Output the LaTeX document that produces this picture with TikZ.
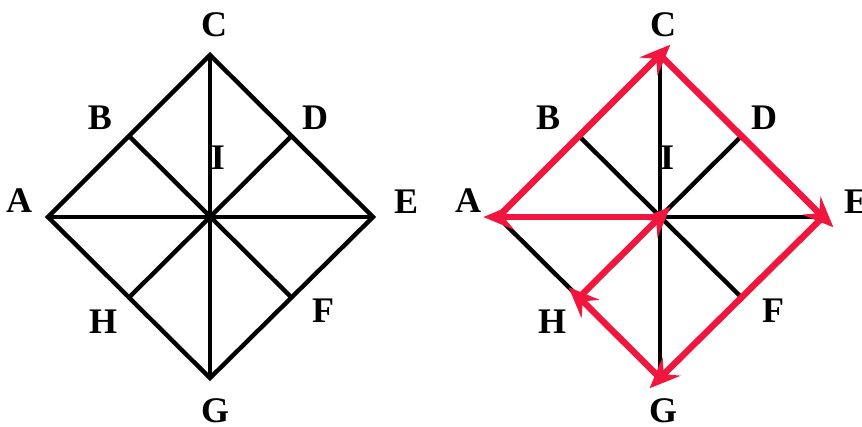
\documentclass[tikz,border=0pt]{standalone}
\usepackage{fontspec}
\setmainfont{Liberation Serif}
\usetikzlibrary{arrows.meta}
\definecolor{arrowred}{RGB}{240,22,62}
\tikzset{
  lbl/.style={font=\fontsize{27}{27}\selectfont\bfseries, inner sep=0pt},
  blk/.style={draw=black, line width=3.3pt},
  redarrow/.style={draw=arrowred, line width=4.8pt,
     -{Stealth[length=23pt,width=19pt,inset=8pt]}, shorten >=-11pt},
}
\begin{document}
\begin{tikzpicture}[x=0.75pt,y=-0.75pt]
\useasboundingbox (0,0) rectangle (862,426);
% ---------- left diagram ----------
\coordinate (A1) at (48,217);
\coordinate (C1) at (210,55);
\coordinate (E1) at (373,217);
\coordinate (G1) at (210,378);
\coordinate (I1) at (210,217);
\path (A1) -- (C1) coordinate[pos=0.5] (B1);
\path (C1) -- (E1) coordinate[pos=0.5] (D1);
\path (E1) -- (G1) coordinate[pos=0.5] (F1);
\path (G1) -- (A1) coordinate[pos=0.5] (H1);
\draw[blk] (A1) -- (C1) -- (E1) -- (G1) -- cycle;
\draw[blk] (A1) -- (E1);
\draw[blk] (C1) -- (G1);
\draw[blk] (B1) -- (F1);
\draw[blk] (D1) -- (H1);
\node[lbl] (lC1) at (214,25) {C};
\node[lbl] (lB1) at (100,118) {B};
\node[lbl] (lD1) at (315,118) {D};
\node[lbl] (lA1) at (19,201) {A};
\node[lbl] (lE1) at (406,202) {E};
\node[lbl] (lI1) at (218,158) {I};
\node[lbl] (lH1) at (103,322) {H};
\node[lbl] (lF1) at (323,311) {F};
\node[lbl] (lG1) at (215,411) {G};
% ---------- right diagram ----------
\coordinate (A2) at (498,217);
\coordinate (C2) at (660,55);
\coordinate (E2) at (823,217);
\coordinate (G2) at (660,378);
\coordinate (I2) at (660,217);
\path (A2) -- (C2) coordinate[pos=0.5] (B2);
\path (C2) -- (E2) coordinate[pos=0.5] (D2);
\path (E2) -- (G2) coordinate[pos=0.5] (F2);
\path (G2) -- (A2) coordinate[pos=0.5] (H2);
\draw[blk] (C2) -- (G2);
\draw[blk] (I2) -- (E2);
\draw[blk] (B2) -- (F2);
\draw[blk] (D2) -- (I2);
\draw[blk] (A2) -- (H2);
\draw[redarrow] (A2) -- (C2);
\draw[redarrow] (C2) -- (E2);
\draw[redarrow] (E2) -- (G2);
\draw[redarrow] (G2) -- (H2);
\draw[redarrow] (H2) -- (I2);
\draw[redarrow] (I2) -- (A2);
\node[lbl] (lC2) at (663,25) {C};
\node[lbl] (lB2) at (548,118) {B};
\node[lbl] (lD2) at (764,118) {D};
\node[lbl] (lA2) at (468,201) {A};
\node[lbl] (lE2) at (856,202) {E};
\node[lbl] (lI2) at (667,158) {I};
\node[lbl] (lH2) at (552,322) {H};
\node[lbl] (lF2) at (773,311) {F};
\node[lbl] (lG2) at (663,411) {G};
\end{tikzpicture}
\end{document}
